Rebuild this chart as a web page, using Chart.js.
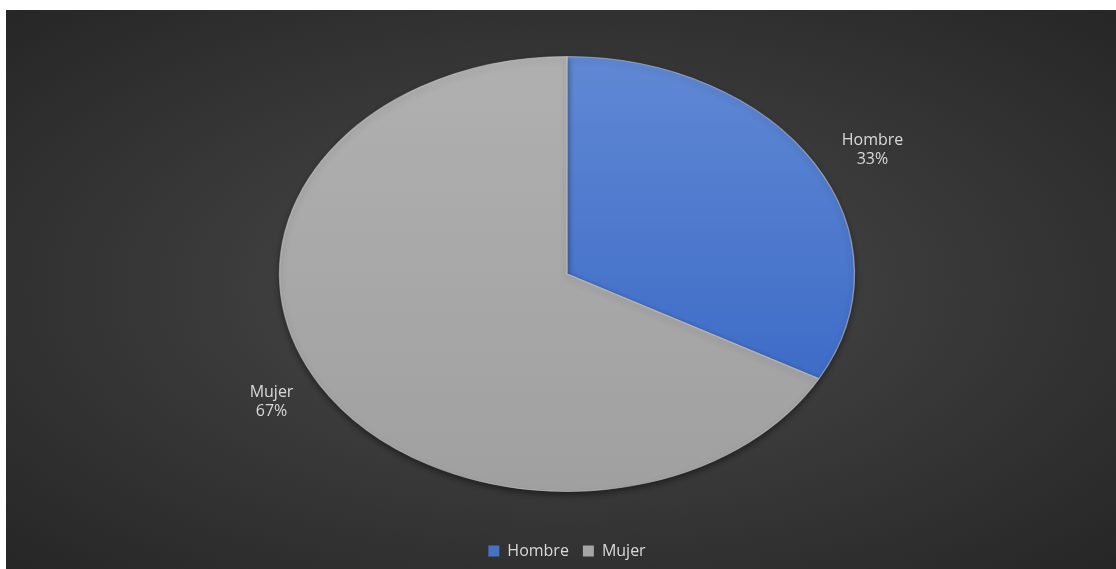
<!DOCTYPE html>
<html>
<head>
<meta charset="utf-8">
<script src="https://cdn.jsdelivr.net/npm/chart.js@4.4.1/dist/chart.umd.min.js"></script>
<style>
  html, body { margin: 0; padding: 0; background: #fff; }
  #wrap {
    position: absolute; left: 6px; top: 10px; width: 1110px; height: 559px;
    background: radial-gradient(ellipse at 50% 50%, #4c4c4c 0%, #3a3a3a 45%, #262626 100%);
  }
</style>
</head>
<body>
<div id="wrap"><canvas id="pie" width="1110" height="559"></canvas></div>
<script>
const labels = ['Hombre', 'Mujer'];
const values = [33, 67];
const percentLabels = ['33%', '67%'];

// the pie is drawn stretched sideways into an ellipse
const stretchX = 287.5 / 217.5;
// small nudges for the outside labels
const labelNudge = [[11, 8], [-1, -4]];

const sliceFill = (ctx) => {
  const chart = ctx.chart;
  const area = chart.chartArea;
  if (!area) return '#a5a5a5';
  const g = chart.ctx.createLinearGradient(0, area.top, 0, area.bottom);
  if (ctx.dataIndex === 0) {
    g.addColorStop(0, '#6088d4');
    g.addColorStop(1, '#3262c2');
  } else {
    g.addColorStop(0, '#b0b0b0');
    g.addColorStop(1, '#a0a0a0');
  }
  return g;
};

const ellipsePlugin = {
  id: 'ellipse',
  beforeDatasetsDraw(chart) {
    const arc = chart.getDatasetMeta(0).data[0];
    const c = chart.ctx;
    c.save();
    c.translate(arc.x, arc.y);
    c.scale(stretchX, 1);
    c.translate(-arc.x, -arc.y);
    c.shadowColor = 'rgba(0,0,0,0.45)';
    c.shadowBlur = 6;
    c.shadowOffsetY = 3;
  },
  afterDatasetsDraw(chart) {
    chart.ctx.restore();
    // slice labels outside the pie
    const c = chart.ctx;
    c.save();
    c.font = '16px "Open Sans", sans-serif';
    c.fillStyle = '#d9d9d9';
    c.textAlign = 'center';
    c.textBaseline = 'middle';
    chart.getDatasetMeta(0).data.forEach((a, i) => {
      const mid = (a.startAngle + a.endAngle) / 2;
      const r = a.outerRadius * 1.19;
      const x = a.x + Math.cos(mid) * r * stretchX + labelNudge[i][0];
      const y = a.y + Math.sin(mid) * r + labelNudge[i][1];
      c.fillText(labels[i], x, y - 9.5);
      c.fillText(percentLabels[i], x, y + 9.5);
    });
    c.restore();
  }
};

new Chart(document.getElementById('pie'), {
  type: 'pie',
  data: {
    labels: labels,
    datasets: [{
      data: values,
      backgroundColor: sliceFill,
      borderColor: 'rgba(210,210,210,0.55)',
      borderWidth: 1
    }]
  },
  options: {
    responsive: false,
    animation: false,
    layout: { padding: { top: 46, bottom: 0, left: 12, right: 0 } },
    plugins: {
      tooltip: { enabled: false },
      legend: {
        position: 'bottom',
        // empty title used as spacer between pie and legend
        title: { display: true, text: ' ', color: 'transparent', font: { size: 14 }, padding: 10.1 },
        labels: {
          color: '#d9d9d9',
          font: { family: '"Open Sans", sans-serif', size: 16 },
          boxWidth: 11,
          boxHeight: 11,
          padding: 14,
          generateLabels(chart) {
            return labels.map((t, i) => ({
              text: t,
              fillStyle: i === 0 ? '#4472c4' : '#a5a5a5',
              strokeStyle: 'transparent',
              lineWidth: 0,
              fontColor: '#d9d9d9',
              index: i
            }));
          }
        }
      }
    }
  },
  plugins: [ellipsePlugin]
});
</script>
</body>
</html>
